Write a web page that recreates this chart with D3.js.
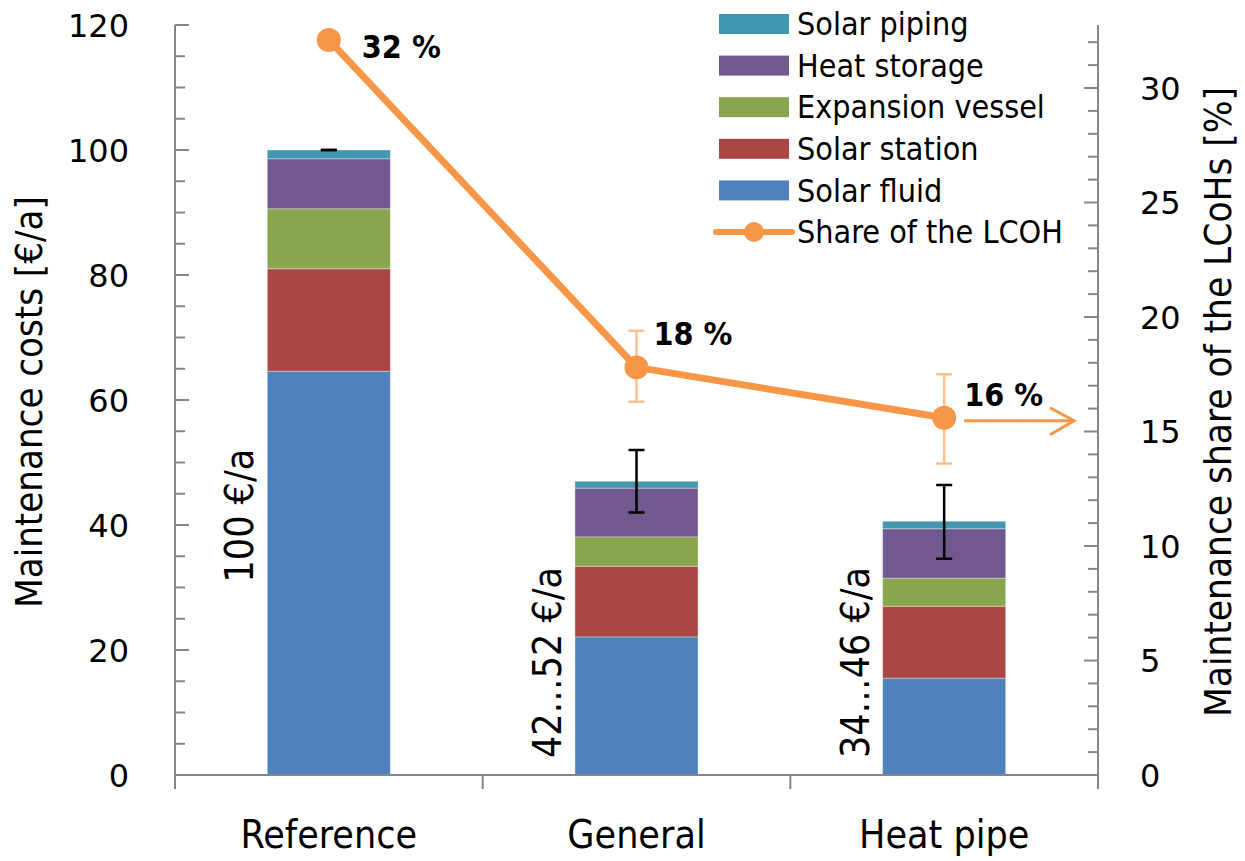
<!DOCTYPE html>
<html>
<head>
<meta charset="utf-8">
<script src="https://cdn.jsdelivr.net/npm/d3@7"></script>
<style>
  body { margin: 0; background: #fff; }
  text { font-family: "Liberation Sans Narrow", "DejaVu Sans Condensed", sans-serif; fill: #000; }
  .num { font-family: "DejaVu Sans", sans-serif; }
</style>
</head>
<body>
<svg id="chart" width="1245" height="861"></svg>
<script>
// categories and series
var categories = ["Reference", "General", "Heat pipe"]
var solarFluid = [64.6, 22.1, 15.5]
var solarStation = [16.4, 11.3, 11.5]
var expansionVessel = [9.6, 4.7, 4.5]
var heatStorage = [8.0, 7.8, 7.9]
var solarPiping = [1.4, 1.1, 1.2]
var costLow = [100, 42, 34.6]
var costHigh = [100, 52, 46.4]
var costLabels = ["100 €/a", "42…52 €/a", "34…46 €/a"]

var shareValues = [32.1, 17.8, 15.6]
var shareLow = [null, 16.3, 13.6]
var shareHigh = [null, 19.4, 17.5]
var shareLabels = ["32 %", "18 %", "16 %"]

var leftTicks = [0, 20, 40, 60, 80, 100, 120]
var rightTicks = [0, 5, 10, 15, 20, 25, 30]

var series = [
    { name: "Solar fluid", values: solarFluid, color: "#4F81BD" },
    { name: "Solar station", values: solarStation, color: "#AA4643" },
    { name: "Expansion vessel", values: expansionVessel, color: "#89A54E" },
    { name: "Heat storage", values: heatStorage, color: "#71588F" },
    { name: "Solar piping", values: solarPiping, color: "#4198AF" }
]

var margin = { top: 25, left: 175, bottom: 86, right: 147 }
var svg = d3.select("#chart")
var width = 1245 - margin.left - margin.right
var height = 861 - margin.top - margin.bottom
var axisColor = "#868686"
var orange = "#F79646"

var g = svg.append("g").attr("transform", `translate(${margin.left},${margin.top})`)

var X_scale = d3.scaleBand().domain(categories).range([0, width])
    .paddingInner(0.6).paddingOuter(0.3)
var Y_left = d3.scaleLinear().domain([0, 120]).range([height, 0])
var Y_right = d3.scaleLinear().domain([0, 30 * 750 / 687]).range([height, 0])

// stacked bars
var rows = categories.map((c, i) => {
    var r = { cat: c }
    series.forEach(s => r[s.name] = s.values[i])
    return r
})
var stacked = d3.stack().keys(series.map(s => s.name))(rows)

g.selectAll("g.layer")
    .data(stacked)
    .join("g")
    .attr("class", "layer")
    .attr("fill", (d, i) => series[i].color)
    .selectAll("rect")
    .data(d => d)
    .join("rect")
    .attr("x", d => X_scale(d.data.cat))
    .attr("y", d => Y_left(d[1]))
    .attr("width", X_scale.bandwidth())
    .attr("height", d => Y_left(d[0]) - Y_left(d[1]))
    .attr("stroke", "#fff")
    .attr("stroke-opacity", 0.35)
    .attr("stroke-width", 1)

// axes
var step = X_scale.step()
var axes = g.append("g").attr("stroke", axisColor).attr("stroke-width", 2)
axes.append("line").attr("x1", 0).attr("x2", width).attr("y1", height).attr("y2", height)
axes.append("line").attr("x1", 0).attr("x2", 0).attr("y1", 0).attr("y2", height + 8)
axes.append("line").attr("x1", width).attr("x2", width).attr("y1", 0).attr("y2", height + 8)
d3.range(0, categories.length + 1).forEach(i => {
    axes.append("line").attr("x1", i * step).attr("x2", i * step)
        .attr("y1", height).attr("y2", height + 14)
})
d3.range(0, 121, 5).forEach(v => {
    var major = v % 20 === 0
    axes.append("line").attr("x1", 0).attr("x2", major ? 14 : 10)
        .attr("y1", Y_left(v)).attr("y2", Y_left(v))
})
d3.range(0, 33, 1).forEach(v => {
    var major = v % 5 === 0
    axes.append("line").attr("x1", width).attr("x2", width - (major ? 14 : 10))
        .attr("y1", Y_right(v)).attr("y2", Y_right(v))
})

g.selectAll("text.ytl").data(leftTicks).join("text")
    .attr("class", "num ytl")
    .attr("x", -46).attr("y", d => Y_left(d)).attr("dy", "0.36em")
    .attr("text-anchor", "end").attr("font-size", 32)
    .text(d => d)

g.selectAll("text.ytr").data(rightTicks).join("text")
    .attr("class", "num ytr")
    .attr("x", width + 42).attr("y", d => Y_right(d)).attr("dy", "0.36em")
    .attr("text-anchor", "start").attr("font-size", 32)
    .text(d => d)

g.selectAll("text.xtl").data(categories).join("text")
    .attr("class", "xtl")
    .attr("x", d => X_scale(d) + X_scale.bandwidth() / 2)
    .attr("y", height + 73)
    .attr("text-anchor", "middle").attr("font-size", 39)
    .text(d => d)

// axis titles
g.append("text")
    .attr("transform", `translate(${-133},${height / 2 + 2}) rotate(-90)`)
    .attr("text-anchor", "middle").attr("font-size", 38)
    .text("Maintenance costs [€/a]")
g.append("text")
    .attr("transform", `translate(${width + 133},${377}) rotate(-90)`)
    .attr("text-anchor", "middle").attr("font-size", 38)
    .attr("textLength", 630).attr("lengthAdjust", "spacingAndGlyphs")
    .text("Maintenance share of the LCoHs [%]")

// cost error bars
var cap = 8
categories.forEach((c, i) => {
    var cx = X_scale(c) + X_scale.bandwidth() / 2
    var eb = g.append("g").attr("stroke", "#000").attr("stroke-width", 2.5)
    eb.append("line").attr("x1", cx).attr("x2", cx).attr("y1", Y_left(costHigh[i])).attr("y2", Y_left(costLow[i]))
    eb.append("line").attr("x1", cx - cap).attr("x2", cx + cap).attr("y1", Y_left(costHigh[i])).attr("y2", Y_left(costHigh[i]))
    eb.append("line").attr("x1", cx - cap).attr("x2", cx + cap).attr("y1", Y_left(costLow[i])).attr("y2", Y_left(costLow[i]))
})

// cost labels (rotated)
var costLabelAt = [41.5, 18, 18]
g.selectAll("text.cl").data(costLabels).join("text")
    .attr("class", "cl")
    .attr("transform", (d, i) => `translate(${X_scale(categories[i]) - 14},${Y_left(costLabelAt[i])}) rotate(-90)`)
    .attr("text-anchor", "middle").attr("font-size", 39)
    .text(d => d)

// share error bars
categories.forEach((c, i) => {
    if (shareLow[i] == null) return
    var cx = X_scale(c) + X_scale.bandwidth() / 2
    var eb = g.append("g").attr("stroke", "#FAC090").attr("stroke-width", 2.5)
    eb.append("line").attr("x1", cx).attr("x2", cx).attr("y1", Y_right(shareHigh[i])).attr("y2", Y_right(shareLow[i]))
    eb.append("line").attr("x1", cx - cap).attr("x2", cx + cap).attr("y1", Y_right(shareHigh[i])).attr("y2", Y_right(shareHigh[i]))
    eb.append("line").attr("x1", cx - cap).attr("x2", cx + cap).attr("y1", Y_right(shareLow[i])).attr("y2", Y_right(shareLow[i]))
})

// share line
var line = d3.line()
    .x((d, i) => X_scale(categories[i]) + X_scale.bandwidth() / 2)
    .y(d => Y_right(d))
g.append("path").datum(shareValues)
    .attr("d", line).attr("fill", "none")
    .attr("stroke", orange).attr("stroke-width", 7).attr("stroke-linejoin", "round")
g.selectAll("circle.mk").data(shareValues).join("circle")
    .attr("class", "mk")
    .attr("cx", (d, i) => X_scale(categories[i]) + X_scale.bandwidth() / 2)
    .attr("cy", d => Y_right(d)).attr("r", 12).attr("fill", orange)

var shareLabelOff = [[33, 18], [17, -22], [20, -12]]
g.selectAll("text.sl").data(shareLabels).join("text")
    .attr("class", "sl")
    .attr("x", (d, i) => X_scale(categories[i]) + X_scale.bandwidth() / 2 + shareLabelOff[i][0])
    .attr("y", (d, i) => Y_right(shareValues[i]) + shareLabelOff[i][1])
    .attr("font-size", 32).attr("font-weight", "bold")
    .text(d => d)

// arrow pointing to right axis
var ax0 = X_scale(categories[2]) + X_scale.bandwidth() / 2 + 20
var ay = Y_right(shareValues[2]) + 3
var ax1 = width - 24
var arrow = g.append("g").attr("stroke", orange).attr("stroke-width", 3).attr("fill", "none")
arrow.append("line").attr("x1", ax0).attr("x2", ax1).attr("y1", ay).attr("y2", ay)
arrow.append("path").attr("d", `M${ax1 - 24},${ay - 13}L${ax1},${ay}L${ax1 - 24},${ay + 14}`)

// legend
var legend = svg.append("g").attr("transform", "translate(719,24)")
var legendItems = series.slice().reverse()
legendItems.forEach((s, i) => {
    var row = legend.append("g").attr("transform", `translate(0,${i * 41.6})`)
    row.append("rect").attr("x", 0).attr("y", -10).attr("width", 70).attr("height", 20).attr("fill", s.color)
    row.append("text").attr("x", 78).attr("y", 0).attr("dy", "0.35em").attr("font-size", 32).text(s.name)
})
var lrow = legend.append("g").attr("transform", `translate(0,${5 * 41.6})`)
lrow.append("line").attr("x1", -3).attr("x2", 73).attr("y1", 0).attr("y2", 0)
    .attr("stroke", orange).attr("stroke-width", 6).attr("stroke-linecap", "round")
lrow.append("circle").attr("cx", 35).attr("cy", 0).attr("r", 10).attr("fill", orange)
lrow.append("text").attr("x", 78).attr("y", 0).attr("dy", "0.35em").attr("font-size", 32).text("Share of the LCOH")
</script>
</body>
</html>
